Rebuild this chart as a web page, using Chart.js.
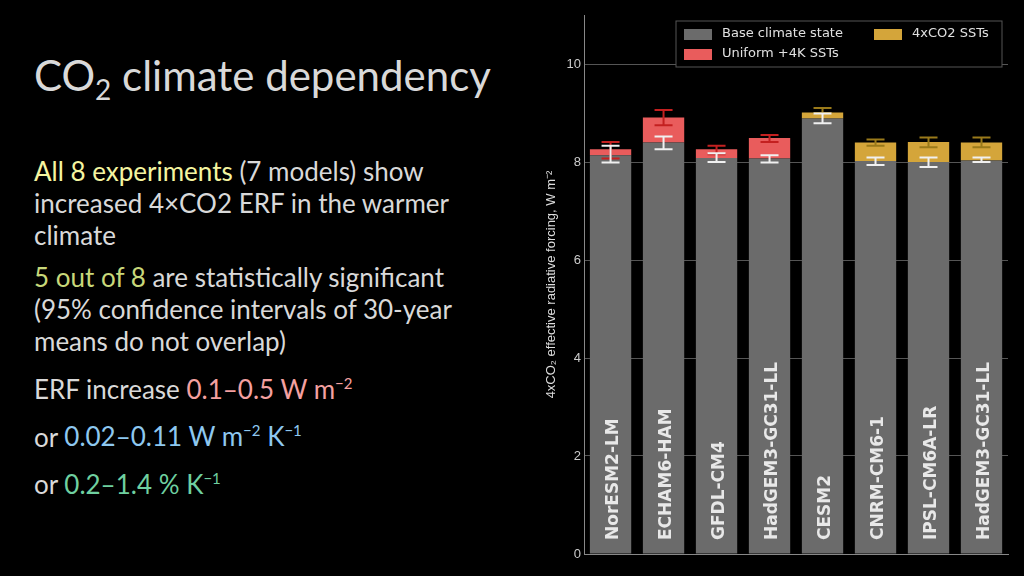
<!DOCTYPE html>
<html><head><meta charset="utf-8">
<script src="https://cdn.jsdelivr.net/npm/chart.js@4"></script>
<style>
body{margin:0;background:#000;width:1024px;height:576px;overflow:hidden;font-family:"Lato","Noto Sans",sans-serif;color:#d9d9d9}
#t{position:absolute;left:34px;top:50px;font-size:42px;color:#d9d9d9}
#b{position:absolute;left:34px;top:155px;font-size:26px;line-height:32px;width:472px}
#b p{margin:0 0 10px 0}
#c{position:absolute;left:540px;top:0;width:484px;height:576px}
</style></head><body>
<div id="t">CO<sub style="font-size:28px">2</sub> climate dependency</div>
<div id="b">
<p><span style="color:#f5f5a0">All 8 experiments</span> (7 models) show increased 4×CO2 ERF in the warmer climate</p>
<p><span style="color:#c8d87a">5 out of 8</span> are statistically significant (95% confidence intervals of 30-year means do not overlap)</p>
<p>ERF increase <span style="color:#f4a0a0">0.1–0.5 W m<sup style="font-size:15px">−2</sup></span></p>
<p>or <span style="color:#8ec8f0">0.02–0.11 W m<sup style="font-size:15px">−2</sup> K<sup style="font-size:15px">−1</sup></span></p>
<p>or <span style="color:#6fd0a0">0.2–1.4 % K<sup style="font-size:15px">−1</sup></span></p>
</div>
<div id="c"><canvas id="cv"></canvas></div>
<script>
const models=["NorESM2-LM","ECHAM6-HAM","GFDL-CM4","HadGEM3-GC31-LL","CESM2","CNRM-CM6-1","IPSL-CM6A-LR","HadGEM3-GC31-LL"];
const baseERF=[8.14,8.40,8.08,8.07,8.89,8.02,8.00,8.03];
const totalERF=[8.26,8.91,8.26,8.49,9.01,8.40,8.41,8.40];
const warmType=["u","u","u","u","s","s","s","s"];
const baseErrLo=[7.99,8.26,8.00,7.99,8.79,7.94,7.90,8.00];
const baseErrHi=[8.33,8.52,8.18,8.14,8.99,8.09,8.09,8.09];
const warmErrLo=[8.07,8.75,8.16,8.41,9.00,8.33,8.30,8.30];
const warmErrHi=[8.41,9.06,8.33,8.55,9.10,8.46,8.50,8.50];
const yTicks=[0,2,4,6,8,10];
const RED="#e95c5c",GOLD="#d4a53a",GREY="#6b6b6b";
const uniform=totalERF.map((t,i)=>warmType[i]==="u"?t-baseERF[i]:0);
const sst=totalERF.map((t,i)=>warmType[i]==="s"?t-baseERF[i]:0);
const extra={id:"extra",afterDatasetsDraw(ch){
 const c=ch.ctx,x=ch.scales.x,y=ch.scales.y;
 function eb(i,lo,hi,col){const px=x.getPixelForValue(i);const a=y.getPixelForValue(lo),b=y.getPixelForValue(hi);
  c.strokeStyle=col;c.lineWidth=2;c.beginPath();c.moveTo(px,a);c.lineTo(px,b);c.moveTo(px-9,a);c.lineTo(px+9,a);c.moveTo(px-9,b);c.lineTo(px+9,b);c.stroke();}
 models.forEach((m,i)=>{
  eb(i,warmErrLo[i],warmErrHi[i],warmType[i]==="u"?"#c42020":"#9a7a1a");
  eb(i,baseErrLo[i],baseErrHi[i],"#f0f0f0");
  const px=x.getPixelForValue(i);c.save();c.translate(px+7,y.getPixelForValue(0)-14);c.rotate(-Math.PI/2);
  c.fillStyle="#e8e8e8";c.font="bold 17px 'DejaVu Sans'";c.textAlign="left";c.fillText(m,0,0);c.restore();});
 const L=ch.chartArea.right-332,T=ch.chartArea.top+6;
 c.fillStyle="#000";c.strokeStyle="#555";c.lineWidth=1;c.fillRect(L,T,326,46);c.strokeRect(L,T,326,46);
 c.font="13px 'DejaVu Sans'";c.textBaseline="middle";c.textAlign="left";
 [[GREY,"Base climate state",L+8,T+13],[RED,"Uniform +4K SSTs",L+8,T+33],[GOLD,"4xCO2 SSTs",L+198,T+13]].forEach(([col,t,lx,ly])=>{
  c.fillStyle=col;c.fillRect(lx,ly-5,28,11);c.fillStyle="#e0e0e0";c.fillText(t,lx+38,ly);});
}};
new Chart(document.getElementById("cv"),{type:"bar",
 data:{labels:models,datasets:[
  {label:"Base climate state",data:baseERF,backgroundColor:GREY},
  {label:"Uniform +4K SSTs",data:uniform,backgroundColor:RED},
  {label:"4xCO2 SSTs",data:sst,backgroundColor:GOLD}]},
 options:{responsive:true,maintainAspectRatio:false,animation:false,
  layout:{padding:{top:15,right:16,bottom:14,left:0}},
  datasets:{bar:{barPercentage:0.78,categoryPercentage:1}},
  plugins:{legend:{display:false},tooltip:{enabled:false}},
  scales:{x:{stacked:true,ticks:{display:false},grid:{display:false},border:{color:"#888"}},
   y:{stacked:true,min:0,max:11,afterBuildTicks:s=>{s.ticks=yTicks.map(v=>({value:v}));},
    ticks:{color:"#ccc",font:{size:13}},
    grid:{color:"#555",borderDash:[2,2],drawTicks:false},border:{color:"#888"},
    title:{display:true,text:"4xCO\u2082 effective radiative forcing, W m\u207B\u00B2",color:"#ddd",font:{size:13}}}}},
 plugins:[extra]});
</script></body></html>
